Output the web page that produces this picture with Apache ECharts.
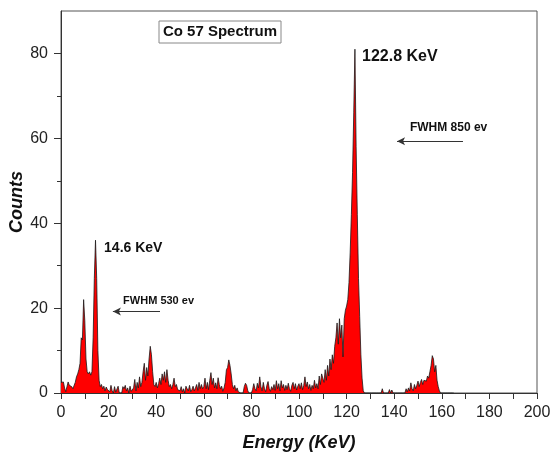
<!DOCTYPE html>
<html>
<head>
<meta charset="utf-8">
<script src="https://cdn.jsdelivr.net/npm/echarts@6/dist/echarts.min.js"></script>
<style>
  html, body { margin: 0; padding: 0; background: #fff; }
  #chart { width: 554px; height: 455px; }
</style>
</head>
<body>
<div id="chart"></div>
<script>
// Co-57 gamma spectrum, counts per 0.5 KeV bin
const binWidth = 0.5;

// 0 - 19.5 KeV
const countsLow = [
  2.5, 2.8, 2.6, 1.2, 0.3, 1.5, 2.6, 1.8, 2.2, 1.5,
  1.0, 1.4, 2.5, 3.8, 4.5, 5.5, 7.0, 13.0, 12.5, 22.0,
  17.0, 8.0, 5.0, 4.5, 5.0, 4.2, 5.0, 13.0, 27.0, 36.0,
  27.0, 10.0, 3.0, 1.5, 2.0, 1.0, 1.6, 0.5, 1.4, 0.8
];
// 20 - 59.5 KeV
const countsMid = [
  1.2, 0.3, 1.8, 0.5, 0.0, 1.5, 0.2, 0.0, 1.6, 0.0,
  0.0, 0.0, 1.5, 1.0, 1.8, 0.5, 1.2, 0.0, 1.6, 0.4,
  0.0, 1.2, 3.2, 0.5, 2.5, 1.2, 3.8, 1.5, 2.5, 5.0,
  7.0, 3.0, 6.0, 4.0, 8.0, 11.0, 9.0, 5.0, 2.0, 1.5,
  2.5, 1.2, 2.2, 3.5, 2.0, 4.5, 3.0, 5.0, 2.5, 5.5,
  3.0, 1.5, 2.0, 1.0, 2.0, 3.5, 1.5, 2.0, 0.8, 1.2,
  0.5, 1.5, 0.3, 1.0, 0.0, 1.6, 1.0, 0.5, 1.8, 0.3,
  0.8, 1.6, 0.5, 1.2, 2.0, 0.6, 2.5, 1.0, 2.0, 1.0
];
// 60 - 109.5 KeV
const countsHigh = [
  1.5, 3.5, 1.0, 2.5, 0.8, 3.0, 4.8, 2.0, 3.5, 1.2,
  2.4, 1.0, 3.6, 2.0, 1.0, 1.6, 0.4, 1.2, 2.5, 5.5,
  6.0, 7.8, 6.5, 4.5, 2.0, 1.0, 1.8, 0.5, 1.2, 0.3,
  0.0, 0.0, 0.0, 0.0, 1.5, 2.3, 1.8, 0.5, 0.0, 0.0,
  0.0, 0.8, 2.2, 1.0, 0.5, 2.3, 1.2, 3.8, 1.5, 0.5,
  2.5, 1.0, 0.3, 1.8, 2.7, 1.0, 0.4, 1.5, 0.8, 2.0,
  0.6, 2.9, 1.0, 2.2, 0.5, 2.9, 1.2, 2.0, 0.6, 1.8,
  0.8, 2.3, 1.0, 0.4, 1.8, 2.5, 1.0, 2.2, 0.7, 1.6,
  2.2, 1.0, 2.4, 0.8, 1.8, 3.8, 1.5, 2.6, 1.0, 2.0,
  0.6, 1.8, 1.0, 3.0, 1.2, 2.2, 1.0, 4.0, 2.0, 4.5
];
// 110 - 129.5 KeV (122.8 KeV photopeak)
const countsPeak = [
  4.5, 2.5, 5.5, 3.0, 6.5, 4.0, 8.0, 5.5, 9.0, 7.0,
  11.0, 13.0, 16.5, 11.5, 17.5, 13.0, 16.0, 8.5, 17.5, 19.5,
  20.5, 22.0, 26.0, 33.0, 42.0, 52.0, 66.0, 81.0, 58.0, 42.0,
  27.0, 18.0, 9.0, 3.5, 0.5, 0.0, 0.0, 0.0, 0.0, 0.0
];
// 130 - 165 KeV
const countsTail = [
  0, 0, 0, 0, 0, 0, 0, 0, 0, 0,
  1.0, 0, 0, 0, 0, 0, 0.8, 0, 0.7, 0,
  0, 0, 0, 0, 0, 0, 0, 0, 0, 0,
  1.0, 0.3, 1.2, 0.5, 2.4, 1.0, 0.5, 2.0, 1.0, 1.8,
  2.8, 1.5, 2.5, 3.2, 2.0, 3.0, 3.2, 2.8, 4.0, 3.5,
  5.0, 6.5, 8.8, 8.0, 5.0, 6.5, 3.0, 1.5, 0.5, 0,
  0, 0, 0, 0, 0, 0, 0, 0, 0, 0, 0
];

const xTicks = [0, 20, 40, 60, 80, 100, 120, 140, 160, 180, 200];
const yMajorTicks = [0, 20, 40, 60, 80];
const yMinorTicks = [0, 10, 20, 30, 40, 50, 60, 70, 80];

const counts = [].concat(countsLow, countsMid, countsHigh, countsPeak, countsTail);
const spectrum = counts.map((c, i) => [i * binWidth, c]);

const FONT = '"Liberation Sans", Arial, sans-serif';
const chart = echarts.init(document.getElementById('chart'), null, { renderer: 'canvas' });

chart.setOption({
  animation: false,
  backgroundColor: '#ffffff',
  grid: {
    left: 61, top: 11, right: 17, bottom: 62,
    outerBoundsMode: 'none', containLabel: false,
    show: true, borderColor: '#555', borderWidth: 1, backgroundColor: 'transparent'
  },
  xAxis: {
    type: 'value', min: xTicks[0], max: xTicks[xTicks.length - 1], interval: 20,
    axisLine: { show: true, onZero: false, lineStyle: { color: '#333', width: 1 } },
    axisTick: { show: true, inside: false, length: 6, lineStyle: { color: '#333' } },
    minorTick: { show: true, splitNumber: 2, length: 6, lineStyle: { color: '#333' } },
    axisLabel: { fontFamily: FONT, fontSize: 16, color: '#222', margin: 12 },
    splitLine: { show: false },
    name: 'Energy (KeV)', nameLocation: 'middle', nameGap: 41, nameMoveOverlap: false,
    nameTextStyle: { fontFamily: FONT, fontSize: 18, fontWeight: 'bold', fontStyle: 'italic', color: '#111' }
  },
  yAxis: [{
    type: 'value', min: 0, max: 90, position: 'left',
    axisLine: { show: true, onZero: false, lineStyle: { color: '#333', width: 1 } },
    axisTick: { show: true, inside: false, length: 4, customValues: yMinorTicks, lineStyle: { color: '#333' } },
    axisLabel: { fontFamily: FONT, fontSize: 16, color: '#222', margin: 13, customValues: yMajorTicks },
    splitLine: { show: false },
    name: 'Counts', nameLocation: 'middle', nameGap: 35, nameMoveOverlap: false,
    nameTextStyle: { fontFamily: FONT, fontSize: 18, fontWeight: 'bold', fontStyle: 'italic', color: '#111' }
  }, {
    type: 'value', min: 0, max: 90, position: 'left',
    axisLine: { show: false },
    axisTick: { show: true, inside: false, length: 7, customValues: yMajorTicks, lineStyle: { color: '#333' } },
    axisLabel: { show: false },
    splitLine: { show: false }
  }],
  series: [{
    type: 'line',
    data: spectrum,
    showSymbol: false,
    sampling: 'none',
    lineStyle: { color: '#1a1a1a', width: 0.8 },
    areaStyle: { color: '#ff0000', opacity: 1, origin: 'start' },
    z: 3,
    markLine: {
      silent: true,
      symbol: ['none', 'arrow'],
      symbolSize: [6, 8],
      label: { show: false },
      lineStyle: { color: '#333', width: 1, type: 'solid' },
      data: [
        [{ coord: [168.9, 59.3] }, { coord: [141.2, 59.3] }],
        [{ coord: [41.6, 19.2] }, { coord: [21.8, 19.2] }]
      ]
    }
  }]
});

// Annotation texts anchored in data coordinates
function px(e, c) { return chart.convertToPixel({ gridIndex: 0 }, [e, c]); }
const annotations = [
  { text: '122.8 KeV', at: [126.5, 79.3], size: 16 },
  { text: '14.6 KeV', at: [18.1, 34.2], size: 14 },
  { text: 'FWHM 850 ev', at: [146.6, 62.5], size: 12 },
  { text: 'FWHM 530 ev', at: [26.1, 21.8], size: 11 }
];
const elements = annotations.map(a => {
  const p = px(a.at[0], a.at[1]);
  return {
    type: 'text', x: p[0], y: p[1], z: 10,
    style: { text: a.text, font: 'bold ' + a.size + 'px ' + FONT, fill: '#111', verticalAlign: 'middle', align: 'left' }
  };
});

// Title box
elements.push({
  type: 'group', x: 159, y: 21, z: 10,
  children: [
    { type: 'rect', shape: { x: 0, y: 0, width: 122, height: 22 },
      style: { fill: '#fff', stroke: '#888', lineWidth: 1 } },
    { type: 'text', x: 61, y: 11,
      style: { text: 'Co 57 Spectrum', font: 'bold 15px ' + FONT, fill: '#111', align: 'center', verticalAlign: 'middle' } }
  ]
});

chart.setOption({ graphic: { elements: elements } });
</script>
</body>
</html>
